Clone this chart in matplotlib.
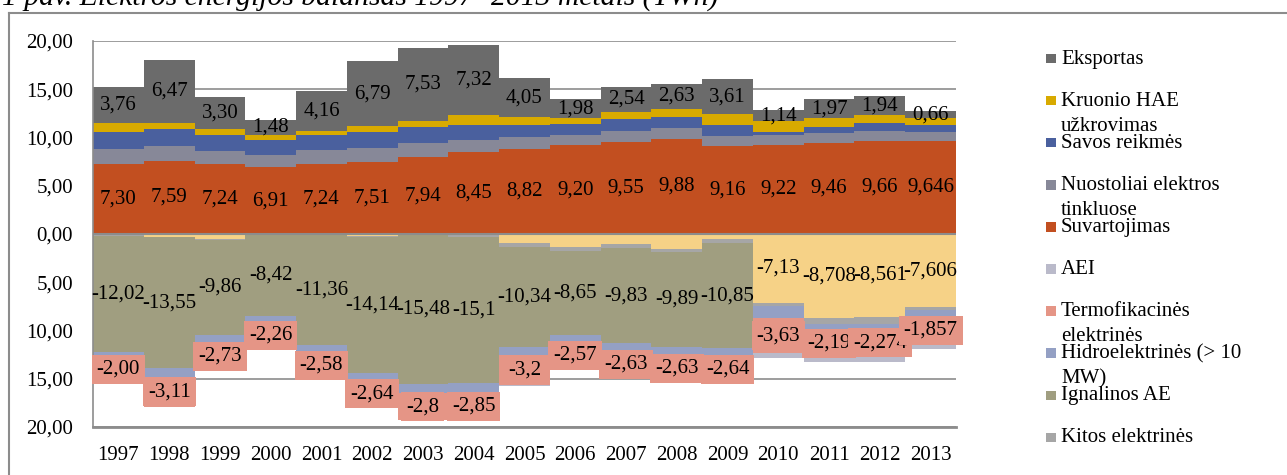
import numpy as np
import matplotlib.pyplot as plt
from matplotlib.patches import Rectangle
from matplotlib.lines import Line2D

plt.rcParams['font.family'] = ['Liberation Serif', 'DejaVu Serif']

years = [str(y) for y in range(1997, 2014)]

# positive side (use of electricity), TWh
suvartojimas_lbl = ["7,30", "7,59", "7,24", "6,91", "7,24", "7,51", "7,94", "8,45", "8,82",
                    "9,20", "9,55", "9,88", "9,16", "9,22", "9,46", "9,66", "9,646"]
nuostoliai = [1.56, 1.52, 1.39, 1.32, 1.50, 1.42, 1.49, 1.32, 1.28, 1.10, 1.15, 1.08, 0.97,
              1.00, 0.97, 1.04, 0.93]
savos = [1.73, 1.73, 1.60, 1.49, 1.49, 1.63, 1.63, 1.56, 1.22, 1.15, 1.17, 1.14, 1.18,
         0.35, 0.69, 0.83, 0.70]
kruonio = [0.87, 0.70, 0.69, 0.59, 0.48, 0.59, 0.69, 0.97, 0.76, 0.52, 0.80, 0.83, 1.11,
           1.11, 0.87, 0.80, 0.76]
eksportas_lbl = ["3,76", "6,47", "3,30", "1,48", "4,16", "6,79", "7,53", "7,32", "4,05",
                 "1,98", "2,54", "2,63", "3,61", "1,14", "1,97", "1,94", "0,66"]

# negative side (sources), TWh
importas = [0.15, 0.28, 0.52, 0.0, 0.05, 0.22, 0.0, 0.0, 0.97, 1.39, 1.04, 1.56, 0.52,
            7.13, 8.708, 8.561, 7.606]
importas_lbl = [""] * 13 + ["-7,13", "-8,708", "-8,561", "-7,606"]
kitos = [0.05, 0.07, 0.07, 0.07, 0.05, 0.07, 0.07, 0.35, 0.38, 0.42, 0.45, 0.28, 0.45,
         0.35, 0.63, 0.76, 0.28]
ignalina_lbl = ["-12,02", "-13,55", "-9,86", "-8,42", "-11,36", "-14,14", "-15,48", "-15,1",
                "-10,34", "-8,65", "-9,83", "-9,89", "-10,85", "", "", "", ""]
hidro = [0.80, 0.90, 0.87, 0.85, 0.85, 0.80, 0.95, 0.95, 0.80, 0.80, 0.85, 0.85, 0.85,
         1.26, 0.90, 0.80, 1.18]
termo_lbl = ["-2,00", "-3,11", "-2,73", "-2,26", "-2,58", "-2,64", "-2,8", "-2,85", "-3,2",
             "-2,57", "-2,63", "-2,63", "-2,64", "-3,63", "-2,19", "-2,274", "-1,857"]
aei = [0.0, 0.0, 0.0, 0.0, 0.0, 0.0, 0.0, 0.0, 0.05, 0.10, 0.10, 0.15, 0.20, 0.43, 0.80,
       0.86, 1.00]


def num(lbls):
    return np.array([abs(float(s.replace(',', '.'))) if s else 0.0 for s in lbls])


c_eks = '#6b6b6b'
c_kru = '#d8aa00'
c_sav = '#4a609e'
c_nuo = '#878898'
c_suv = '#c24f20'
c_aei = '#babaca'
c_ter = '#e59586'
c_hid = '#94a0c4'
c_ign = '#a09e80'
c_kit = '#a6a6a6'
c_imp = '#f6d287'

W, H = 1287, 475
fig = plt.figure(figsize=(W / 100, H / 100), dpi=100)
ax = fig.add_axes([93 / W, 1 - 427 / H, (956 - 93) / W, (427 - 41) / H])
x = np.arange(len(years))
fs = 15.0

# positive stack
pos = [(num(suvartojimas_lbl), c_suv, suvartojimas_lbl),
       (np.array(nuostoliai), c_nuo, None),
       (np.array(savos), c_sav, None),
       (np.array(kruonio), c_kru, None),
       (num(eksportas_lbl), c_eks, eksportas_lbl)]
bottom = np.zeros(len(x))
for vals, col, lbls in pos:
    ax.bar(x, vals, bottom=bottom, width=1.0, color=col, linewidth=0, zorder=2)
    if lbls:
        for i, s in enumerate(lbls):
            ax.text(x[i], bottom[i] + vals[i] / 2, s, ha='center', va='center',
                    fontsize=fs, zorder=5)
    bottom = bottom + vals

# negative stack
neg = [(np.array(importas), c_imp, importas_lbl, False),
       (np.array(kitos), c_kit, None, False),
       (num(ignalina_lbl), c_ign, ignalina_lbl, False),
       (np.array(hidro), c_hid, None, False),
       (num(termo_lbl), c_ter, termo_lbl, True),
       (np.array(aei), c_aei, None, False)]
bottom = np.zeros(len(x))
boxed = []
for vals, col, lbls, box in neg:
    ax.bar(x, -vals, bottom=bottom, width=1.0, color=col, linewidth=0, zorder=2)
    if lbls:
        for i, s in enumerate(lbls):
            if not s:
                continue
            yc = bottom[i] - vals[i] / 2
            if box:
                boxed.append((x[i], yc, s, col))
            else:
                ax.text(x[i], yc, s, ha='center', va='center', fontsize=fs, zorder=5)
    bottom = bottom - vals

for i, (xi, yc, s, col) in enumerate(boxed):
    ax.text(xi, yc, s, ha='center', va='center', fontsize=fs, zorder=6 + i * 0.01,
            bbox=dict(boxstyle='square,pad=0.24', fc=col, ec='none'))

ax.axhline(0, color='#8c8c8c', lw=1.5, zorder=3)

ax.set_xlim(-0.5, len(x) - 0.5)
ax.set_ylim(-20, 20)
ax.set_yticks(np.arange(-20, 21, 5))
ax.set_yticklabels([f"{abs(v):.2f}".replace('.', ',') for v in np.arange(-20, 21, 5)])
ax.set_xticks(x)
ax.set_xticklabels(years)
ax.tick_params(axis='y', length=0, pad=14.5, labelsize=fs)
ax.tick_params(axis='x', length=0, pad=14, labelsize=fs)
ax.yaxis.grid(True, color='#8c8c8c', lw=1.2)
ax.set_axisbelow(True)
for sp in ['top', 'right']:
    ax.spines[sp].set_visible(False)
ax.spines['left'].set_color('#8c8c8c')
ax.spines['left'].set_linewidth(1.2)
ax.spines['bottom'].set_color('#8c8c8c')
ax.spines['bottom'].set_linewidth(2)

# legend drawn by hand to keep Excel-like wrapping
legend_items = [("Eksportas", c_eks), ("Kruonio HAE\nužkrovimas", c_kru),
                ("Savos reikmės", c_sav), ("Nuostoliai elektros\ntinkluose", c_nuo),
                ("Suvartojimas", c_suv), ("AEI", c_aei),
                ("Termofikacinės\nelektrinės", c_ter), ("Hidroelektrinės (> 10\nMW)", c_hid),
                ("Ignalinos AE", c_ign), ("Kitos elektrinės", c_kit)]
for k, (lab, col) in enumerate(legend_items):
    yc = 58.5 + k * 42.1
    fig.patches.append(Rectangle((1046 / W, 1 - (yc + 4.7) / H), 9.5 / W, 9.5 / H,
                                 transform=fig.transFigure, fc=col, ec='none'))
    for j, line in enumerate(lab.split('\n')):
        fig.text(1061 / W, 1 - (yc + 5 + j * 25) / H, line, fontsize=fs, va='baseline',
                 ha='left')

# outer frame and cropped caption
fig.add_artist(Line2D([8.5 / W, 1], [1 - 12.5 / H, 1 - 12.5 / H], color='#8c8c8c', lw=1.5))
fig.add_artist(Line2D([8.5 / W, 8.5 / W], [0, 1 - 12.5 / H], color='#8c8c8c', lw=1.5))
fig.text(2 / W, 1 - 4.5 / H, "1 pav. Elektros energijos balansas 1997- 2013 metais (TWh)",
         fontsize=21.3, style='italic', va='baseline', ha='left')

fig.savefig('out.png', dpi=100)
